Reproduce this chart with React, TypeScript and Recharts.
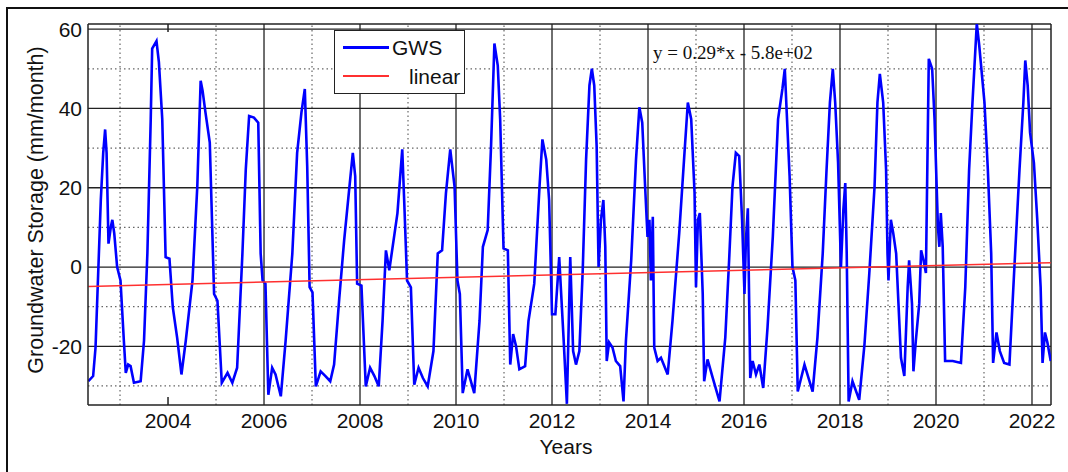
import { LineChart, Line, XAxis, YAxis, ReferenceLine } from "recharts";

// GWS trace (decimal year, mm/month)
const YEARS = [
  2002.34, 2002.44, 2002.49, 2002.6, 2002.65, 2002.69, 2002.72, 2002.76, 2002.81, 2002.84, 2002.88, 2002.94,
  2003.01, 2003.08, 2003.12, 2003.17, 2003.22, 2003.29, 2003.43, 2003.5, 2003.57, 2003.64, 2003.67, 2003.76,
  2003.81, 2003.88, 2003.95, 2004.03, 2004.1, 2004.19, 2004.28, 2004.37, 2004.51, 2004.61, 2004.68, 2004.72,
  2004.78, 2004.87, 2004.96, 2005.03, 2005.12, 2005.24, 2005.34, 2005.44, 2005.55, 2005.62, 2005.69, 2005.79,
  2005.88, 2005.93, 2005.97, 2006.03, 2006.09, 2006.17, 2006.24, 2006.35, 2006.45, 2006.59, 2006.69, 2006.78,
  2006.85, 2006.9, 2006.95, 2007.01, 2007.08, 2007.18, 2007.28, 2007.38, 2007.46, 2007.57, 2007.67, 2007.78,
  2007.85, 2007.9, 2007.94, 2008.03, 2008.12, 2008.21, 2008.3, 2008.39, 2008.47, 2008.54, 2008.61, 2008.72,
  2008.78, 2008.88, 2008.92, 2008.98, 2009.06, 2009.13, 2009.22, 2009.31, 2009.41, 2009.53, 2009.62, 2009.71,
  2009.79, 2009.88, 2009.97, 2010.03, 2010.08, 2010.14, 2010.24, 2010.38, 2010.49, 2010.56, 2010.66, 2010.73,
  2010.8, 2010.87, 2010.92, 2010.99, 2011.08, 2011.13, 2011.19, 2011.25, 2011.32, 2011.44, 2011.51, 2011.63,
  2011.74, 2011.8, 2011.88, 2011.94, 2012.0, 2012.07, 2012.15, 2012.24, 2012.31, 2012.38, 2012.44, 2012.5,
  2012.57, 2012.64, 2012.71, 2012.78, 2012.83, 2012.88, 2012.93, 2012.97, 2013.02, 2013.07, 2013.11, 2013.14,
  2013.19, 2013.26, 2013.33, 2013.42, 2013.49, 2013.54, 2013.65, 2013.75, 2013.82, 2013.88, 2013.94, 2013.99,
  2014.03, 2014.06, 2014.1, 2014.13, 2014.2, 2014.27, 2014.41, 2014.51, 2014.65, 2014.76, 2014.83, 2014.9,
  2014.97, 2015.0, 2015.04, 2015.08, 2015.14, 2015.17, 2015.24, 2015.35, 2015.49, 2015.61, 2015.69, 2015.76,
  2015.83, 2015.9, 2015.96, 2016.01, 2016.04, 2016.08, 2016.13, 2016.18, 2016.25, 2016.32, 2016.4, 2016.49,
  2016.6, 2016.71, 2016.8, 2016.85, 2016.89, 2016.95, 2017.01, 2017.07, 2017.12, 2017.26, 2017.43, 2017.53,
  2017.64, 2017.72, 2017.79, 2017.85, 2017.9, 2017.96, 2018.02, 2018.07, 2018.11, 2018.14, 2018.18, 2018.26,
  2018.4, 2018.51, 2018.61, 2018.72, 2018.78, 2018.83, 2018.9, 2018.96, 2018.99, 2019.01, 2019.06, 2019.11,
  2019.17, 2019.27, 2019.34, 2019.41, 2019.44, 2019.5, 2019.53, 2019.58, 2019.65, 2019.69, 2019.74, 2019.79,
  2019.85, 2019.92, 2019.97, 2020.04, 2020.07, 2020.1, 2020.14, 2020.19, 2020.35, 2020.52, 2020.61, 2020.69,
  2020.76, 2020.85, 2020.9, 2021.01, 2021.08, 2021.15, 2021.19, 2021.26, 2021.33, 2021.42, 2021.53, 2021.63,
  2021.74, 2021.82, 2021.86, 2021.91, 2021.96, 2022.04, 2022.11, 2022.18, 2022.22, 2022.27, 2022.32, 2022.39,
];
const GWS = [
  -28.8, -27.5, -20.3, 17, 28.8, 34.7, 28.8, 5.9, 10.2, 11.9, 8.5, 0,
  -3.4, -18.6, -26.7, -24.6, -25, -29.2, -28.8, -18.6, 3.4, 37.3, 55.1, 57,
  51.7, 37.3, 2.5, 2.1, -10.2, -17.8, -27.1, -18.6, -3.4, 20.3, 47, 44.5,
  39, 31.4, -6.8, -8.5, -29.2, -26.7, -29.2, -25.4, 3.4, 24.6, 38.1, 37.7,
  36.4, 3.4, -3.4, -4.2, -32.2, -25.4, -27.1, -32.6, -18.6, 3.4, 28.8, 39,
  44.9, 25.4, -5.1, -6.4, -30.1, -26.3, -27.5, -28.8, -24.6, -7.6, 6.8, 20.3,
  28.8, 22.9, -4.2, -4.7, -30.1, -25.4, -27.5, -30.1, -13.6, 4.2, -0.8, 8.5,
  13.6, 29.7, 16.9, -3.4, -5.1, -29.7, -25.4, -28, -30.1, -21.2, 3.4, 4.2,
  18.6, 29.7, 20.3, -3.4, -6.8, -31.8, -25.8, -31.8, -13.6, 5.1, 9.3, 30.5,
  56.4, 50.8, 37.3, 4.7, 4.2, -24.6, -16.9, -19.9, -25.8, -25, -13.6, -4.2,
  20.3, 32.2, 27.1, 16.9, -11.9, -11.9, 2.5, -17.8, -34.5, 2.5, -21.2, -24.6,
  -21.2, -0.8, 27.1, 45.8, 50, 45.8, 30.5, 0, 11.9, 16.9, 5.1, -23.7,
  -19, -20.3, -23.7, -25, -33.9, -18.6, 1.7, 27.1, 40.3, 36.4, 20.3, 7.6,
  11.9, -3.4, 12.7, -20.3, -23.7, -22.9, -27.1, -13.6, 8.5, 28.8, 41.5, 37.3,
  18.6, -5.1, 11.9, 13.6, -6.8, -28.8, -23.3, -28, -33.9, -17.8, 1.7, 20.3,
  28.8, 28, 11.9, -6.8, 6.8, 14.8, -28, -23.7, -27.1, -24.6, -30.5, -15.3,
  7.6, 37.3, 44.9, 50, 39, 22.9, 0, -3.4, -31.4, -24.6, -31.4, -17.8,
  3.4, 24.6, 41.5, 50, 41.5, 26.3, 0, 14.4, 21.2, 3.4, -33.9, -28.8,
  -33.5, -19.5, -1.7, 20.3, 41.5, 48.7, 41.5, 24.6, 3.4, -3.4, 11.9, 8.5,
  3.4, -22.9, -27.5, -5.1, 1.7, -9.3, -26.3, -18.6, -9.3, 4.2, 1.7, -1.5,
  52.5, 50, 37.3, 10.2, 5.1, 13.6, 5.1, -23.7, -23.7, -24.2, -5.1, 24.6,
  41.5, 61.4, 56, 41.5, 24.6, 3.4, -24.2, -16.5, -21.2, -24.2, -24.6, -0.8,
  24.6, 41.5, 52.1, 45.8, 33.9, 26.3, 11.9, -5.1, -24.2, -16.5, -19, -23.7,
];

// linear fit, end points
const TREND_YEARS = [2002.34, 2022.39];
const TREND = [-4.9, 1.1];

const X_TICKS = [2004, 2006, 2008, 2010, 2012, 2014, 2016, 2018, 2020, 2022];
const X_MAJOR = [2006, 2008, 2010, 2012, 2014, 2016, 2018, 2020, 2022];
const X_MINOR = [2003, 2005, 2007, 2009, 2011, 2013, 2015, 2017, 2019, 2021];
const Y_TICKS = [-20, 0, 20, 40, 60];
const Y_MINOR = [-30, -10, 10, 30, 50];

const X_DOMAIN: [number, number] = [2002.333, 2022.396];
const Y_DOMAIN: [number, number] = [-34.8, 61.3];

const SANS = '"Liberation Sans", Arial, sans-serif';
const GRID_COLOR = "#222";
const DOT_COLOR = "#666";
const TREND_COLOR = "#ff3030";

const gwsData = YEARS.map((t, i) => ({ t, gws: GWS[i] }));
const trendData = TREND_YEARS.map((t, i) => ({ t, lin: TREND[i] }));

export default function App() {
  return (
    <div style={{ position: "absolute", left: 0, top: 0, width: 1068, height: 472, background: "#fff", fontFamily: SANS }}>
      {/* cropped figure frame */}
      <div style={{ position: "absolute", left: 6, top: 7, width: 1062, height: 465, borderTop: "2px solid #111", borderLeft: "2px solid #111" }} />

      <LineChart width={1068} height={472} margin={{ top: 24, right: 17, bottom: 7, left: 8 }} style={{ position: "absolute", left: 0, top: 0 }}>
        <XAxis
          type="number"
          dataKey="t"
          domain={X_DOMAIN}
          ticks={X_TICKS}
          allowDataOverflow
          height={60}
          tickLine={false}
          tickSize={6}
          tickMargin={2}
          axisLine={{ stroke: GRID_COLOR, strokeWidth: 1.5 }}
          tick={{ fontSize: 21, fill: "#111", fontFamily: SANS }}
        />
        <YAxis
          type="number"
          domain={Y_DOMAIN}
          ticks={Y_TICKS}
          allowDataOverflow
          width={80}
          tickLine={false}
          tickSize={4}
          tickMargin={2}
          axisLine={{ stroke: GRID_COLOR, strokeWidth: 1.5 }}
          tick={{ fontSize: 21, fill: "#111", fontFamily: SANS }}
        />

        {Y_MINOR.map((v) => (
          <ReferenceLine key={`ym${v}`} y={v} stroke={DOT_COLOR} strokeWidth={1.2} strokeDasharray="1.5 3" />
        ))}
        {X_MINOR.map((v) => (
          <ReferenceLine key={`xm${v}`} x={v} stroke={DOT_COLOR} strokeWidth={1.2} strokeDasharray="1.5 3" />
        ))}
        {Y_TICKS.map((v) => (
          <ReferenceLine key={`y${v}`} y={v} stroke={GRID_COLOR} strokeWidth={1.3} />
        ))}
        {X_MAJOR.map((v) => (
          <ReferenceLine key={`x${v}`} x={v} stroke={GRID_COLOR} strokeWidth={1.3} />
        ))}
        {/* box top / right */}
        <ReferenceLine y={Y_DOMAIN[1]} stroke={GRID_COLOR} strokeWidth={1.5} />
        <ReferenceLine x={X_DOMAIN[1]} stroke={GRID_COLOR} strokeWidth={1.5} />
        {/* inward tick marks at 2004 */}
        <ReferenceLine segment={[{ x: 2004, y: Y_DOMAIN[0] }, { x: 2004, y: Y_DOMAIN[0] + 2 }]} stroke={GRID_COLOR} strokeWidth={1.5} />
        <ReferenceLine segment={[{ x: 2004, y: Y_DOMAIN[1] }, { x: 2004, y: Y_DOMAIN[1] - 2 }]} stroke={GRID_COLOR} strokeWidth={1.5} />

        <Line data={gwsData} dataKey="gws" type="linear" stroke="#0000ff" strokeWidth={2.6} dot={false} isAnimationActive={false} />
        <Line data={trendData} dataKey="lin" type="linear" stroke={TREND_COLOR} strokeWidth={1.5} dot={false} isAnimationActive={false} />
      </LineChart>

      {/* legend */}
      <div style={{ position: "absolute", left: 334, top: 30, width: 129, height: 62, border: "1px solid #222", background: "#fff" }}>
        <div style={{ position: "absolute", left: 8, top: 15, width: 46, height: 3, background: "#0000ff" }} />
        <div style={{ position: "absolute", left: 57, top: 5, fontSize: 21, lineHeight: "24px", color: "#111" }}>GWS</div>
        <div style={{ position: "absolute", left: 8, top: 44, width: 46, height: 2, background: TREND_COLOR }} />
        <div style={{ position: "absolute", left: 74, top: 34, fontSize: 21, lineHeight: "24px", color: "#111" }}>linear</div>
      </div>

      {/* regression equation */}
      <div style={{ position: "absolute", left: 653, top: 42, fontFamily: '"Liberation Serif", "Times New Roman", serif', fontSize: 19, lineHeight: "22px", color: "#111", whiteSpace: "nowrap" }}>
        y = 0.29*x - 5.8e+02
      </div>

      {/* axis titles */}
      <div style={{ position: "absolute", left: 36, top: 210, transform: "translate(-50%, -50%) rotate(-90deg)", fontSize: 21.5, whiteSpace: "nowrap", color: "#111" }}>
        Groundwater Storage (mm/month)
      </div>
      <div style={{ position: "absolute", left: 566, top: 447, transform: "translate(-50%, -50%)", fontSize: 21, color: "#111" }}>
        Years
      </div>
    </div>
  );
}
